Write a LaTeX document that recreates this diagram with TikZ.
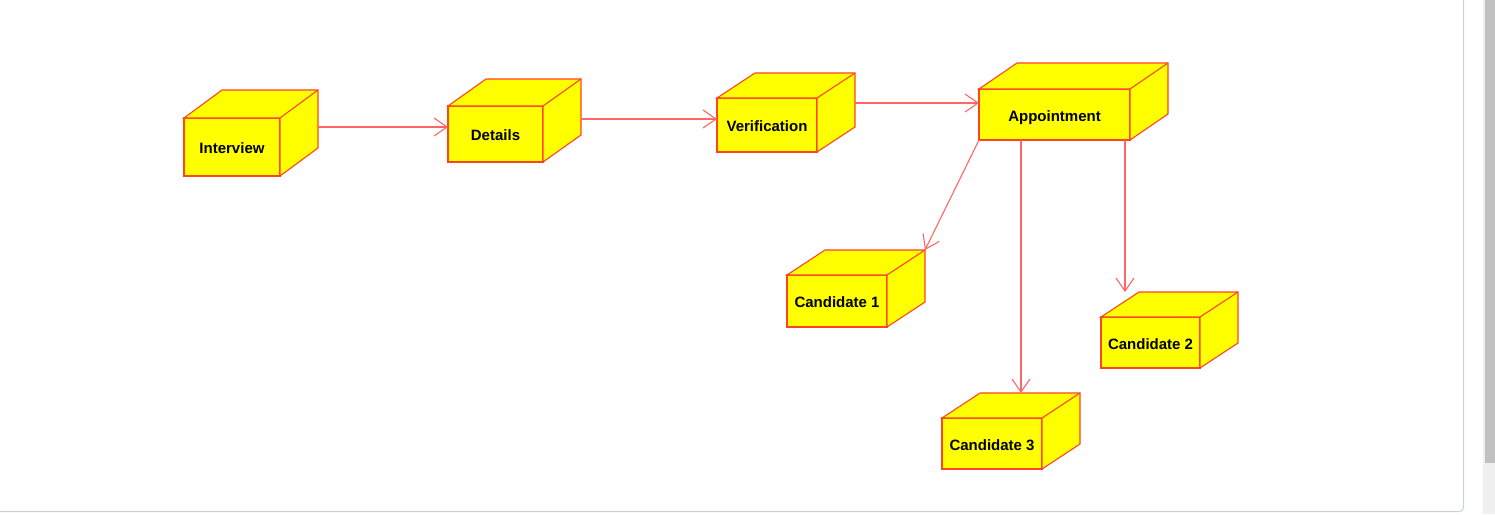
\documentclass[tikz,border=0pt]{standalone}
\usepackage{fontspec}
\setmainfont{Liberation Sans}
\usetikzlibrary{arrows.meta}
\definecolor{boxyellow}{HTML}{FFFF00}
\definecolor{boxedge}{HTML}{FF4422}
\definecolor{arrred}{HTML}{FF6666}
\definecolor{framegray}{HTML}{C8D0D8}
\definecolor{thumbgray}{HTML}{C0C0C0}
\definecolor{trackgray}{HTML}{F0F0F0}
\begin{document}
\begin{tikzpicture}[x=1pt,y=-1pt,
  cube/.style={draw=boxedge, fill=boxyellow, line width=1.1pt, inner sep=0pt, outer sep=0pt,
    text height=16pt, text depth=3pt,
    font=\fontsize{15}{17}\selectfont\bfseries, text=black},
  edge/.style={draw=boxedge, line width=1.1pt, line join=miter},
  arr/.style={draw=arrred, line width=1.1pt, -{Straight Barb[length=13pt,width=18pt,line width=1.1pt]}}]
\useasboundingbox (0,0) rectangle (1495,514);
\fill[white] (0,0) rectangle (1495,514);
% scrollbar and frame
\fill[trackgray] (1483,0) rectangle (1495,514);
\fill[thumbgray] (1485,0) rectangle (1495,463);
\draw[framegray, line width=1pt] (0,511.5) -- (1459.5,511.5) arc[start angle=90, end angle=0, radius=4] -- (1463.5,0);
% nodes
\node[cube, minimum width=96pt, minimum height=58pt] (interview) at (232,147) {Interview};
\node[cube, minimum width=95pt, minimum height=56pt] (details) at (495.5,134) {Details};
\node[cube, minimum width=100pt, minimum height=54pt] (verification) at (767,125) {Verification};
\node[cube, minimum width=151pt, minimum height=51pt] (appointment) at (1054.5,114.5) {Appointment};
\node[cube, minimum width=100pt, minimum height=52pt] (cand1) at (837,301) {Candidate 1};
\node[cube, minimum width=99pt, minimum height=51pt] (cand2) at (1150.5,342.5) {Candidate 2};
\node[cube, minimum width=100pt, minimum height=51pt] (cand3) at (992,443.5) {Candidate 3};
% 3D faces
\foreach \n/\d in {interview/28, details/27, verification/25, appointment/26, cand1/25, cand2/25, cand3/25} {
  \draw[edge, fill=boxyellow] (\n.north west) -- ([shift={(38,-\d)}]\n.north west) -- ([shift={(38,-\d)}]\n.north east) -- ([shift={(38,-\d)}]\n.south east) -- (\n.south east) -- (\n.north east) -- cycle;
  \draw[edge] (\n.north east) -- ([shift={(38,-\d)}]\n.north east);
}
% connectors
\coordinate (s1) at ([shift={(38,-20)}]interview.east);
\coordinate (s2) at ([shift={(38,-15)}]details.east);
\coordinate (s3) at ([shift={(38,-22)}]verification.east);
\draw[arr] (s1) -- (details.west |- s1);
\draw[arr] (s2) -- (verification.west |- s2);
\draw[arr] (s3) -- (appointment.west |- s3);
\draw[arr] (appointment.south west) -- ([shift={(38,-25)}]cand1.north east);
\draw[arr] ([xshift=42pt]appointment.south west) -- ([shift={(79,-25)}]cand3.north west);
\draw[arr] ([xshift=-5pt]appointment.south east) -- ([shift={(24,-25)}]cand2.north west);
\end{tikzpicture}
\end{document}
